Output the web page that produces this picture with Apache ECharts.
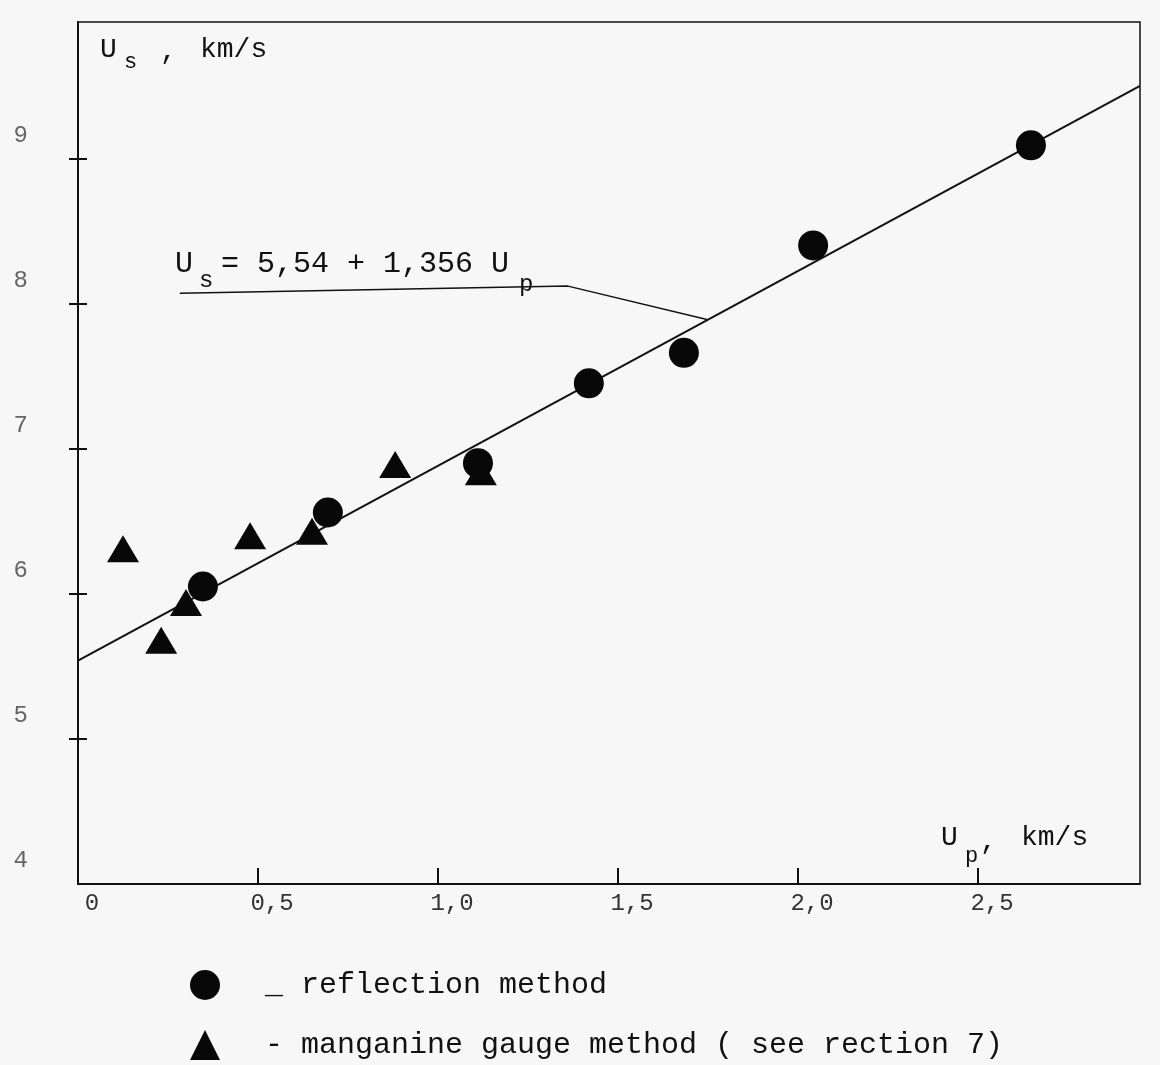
<!DOCTYPE html>
<html>
<head>
<meta charset="utf-8">
<title>Us - Up</title>
<script src="https://cdn.jsdelivr.net/npm/echarts@6/dist/echarts.min.js"></script>
<style>
  html, body { margin: 0; padding: 0; background: #f7f7f7; }
  #chart { width: 1160px; height: 1065px; }
</style>
</head>
<body>
<div id="chart"></div>
<script>
// [Up, Us] in km/s
const reflection = [[0.347, 6.05], [0.694, 6.56], [1.111, 6.90], [1.419, 7.45], [1.683, 7.66], [2.042, 8.40], [2.647, 9.09]];
const manganine = [[0.125, 6.31], [0.231, 5.68], [0.30, 5.94], [0.478, 6.40], [0.65, 6.43], [0.881, 6.89], [1.119, 6.84]];
const fitLine = [[0, 5.54], [2.95, 9.50]];
const leader = [[0.283, 8.07], [1.361, 8.12], [1.747, 7.89]];
const xTicks = [0, 0.5, 1, 1.5, 2, 2.5];
const xTickLabels = ["0", "0,5", "1,0", "1,5", "2,0", "2,5"];
const yTicks = [4, 5, 6, 7, 8, 9];
const REFL = "reflection method";
const MANG = "manganine gauge method ( see rection 7)";
const legendPrefix = { [REFL]: "_ ", [MANG]: "- " };

const FONT = "Liberation Mono";
const INK = "#111";

const chart = echarts.init(document.getElementById("chart"));

function txt(x, y, text, size) {
  return {
    type: "text", x: x, y: y, silent: true,
    style: { text: text, font: size + "px '" + FONT + "'", fill: INK, verticalAlign: "middle" },
  };
}

function legendAt(top, name) {
  return {
    left: 185, top: top, itemWidth: 30, itemHeight: 30,
    selectedMode: false, data: [name],
    formatter: (n) => legendPrefix[n] + n,
    textStyle: { fontFamily: FONT, fontSize: 30, color: INK, padding: [0, 0, 10, 40] },
  };
}

chart.setOption({
  backgroundColor: "#f7f7f7",
  animation: false,
  grid: { left: 78, top: 22, width: 1062, height: 862, show: true, borderColor: INK, borderWidth: 1.5 },
  xAxis: {
    type: "value", min: 0, max: 2.95, interval: 0.5,
    axisLine: { show: true, lineStyle: { color: INK, width: 2 } },
    axisTick: { show: true, inside: true, length: 16, lineStyle: { color: INK, width: 2 },
      customValues: xTicks.slice(1) },
    axisLabel: {
      customValues: xTicks, margin: 8, padding: [0, 0, 0, 28],
      color: "#333", fontFamily: FONT, fontSize: 24,
      formatter: (v) => xTickLabels[xTicks.indexOf(v)],
    },
    splitLine: { show: false },
  },
  yAxis: [
    {
      type: "value", min: 4, max: 9.94, interval: 1,
      axisLine: { show: true, lineStyle: { color: INK, width: 2 } },
      axisTick: { show: true, length: 9, lineStyle: { color: INK, width: 2 }, customValues: yTicks.slice(1) },
      axisLabel: { customValues: yTicks, margin: 50, verticalAlign: "bottom", lineHeight: 46,
        color: "#666", fontFamily: FONT, fontSize: 24 },
      splitLine: { show: false },
    },
    {
      type: "value", min: 4, max: 9.94, interval: 1, position: "left",
      axisLine: { show: false },
      axisTick: { show: true, inside: true, length: 9, lineStyle: { color: INK, width: 2 }, customValues: yTicks.slice(1) },
      axisLabel: { show: false },
      splitLine: { show: false },
    },
  ],
  legend: [legendAt(965, REFL), legendAt(1025, MANG)],
  graphic: [
    txt(100, 50, "U", 28), txt(124, 62, "s", 22), txt(160, 52, ",", 28), txt(200, 50, "km/s", 28),
    txt(941, 838, "U", 28), txt(965, 856, "p", 22), txt(980, 842, ",", 28), txt(1021, 838, "km/s", 28),
    txt(175, 264, "U", 30), txt(199, 281, "s", 24), txt(221, 264, "= 5,54 + 1,356 U", 30), txt(519, 285, "p", 24),
  ],
  series: [
    {
      name: "fit", type: "line", data: fitLine, showSymbol: false, silent: true,
      lineStyle: { color: INK, width: 2 }, z: 1,
    },
    {
      name: "leader", type: "line", data: leader, showSymbol: false, silent: true,
      lineStyle: { color: INK, width: 1.5 }, z: 1,
    },
    {
      name: MANG, type: "scatter", data: manganine,
      symbol: "triangle", symbolSize: [32, 27], itemStyle: { color: "#080808", opacity: 1 }, z: 3,
    },
    {
      name: REFL, type: "scatter", data: reflection,
      symbol: "circle", symbolSize: 30, itemStyle: { color: "#080808", opacity: 1 }, z: 4,
    },
  ],
});
</script>
</body>
</html>
